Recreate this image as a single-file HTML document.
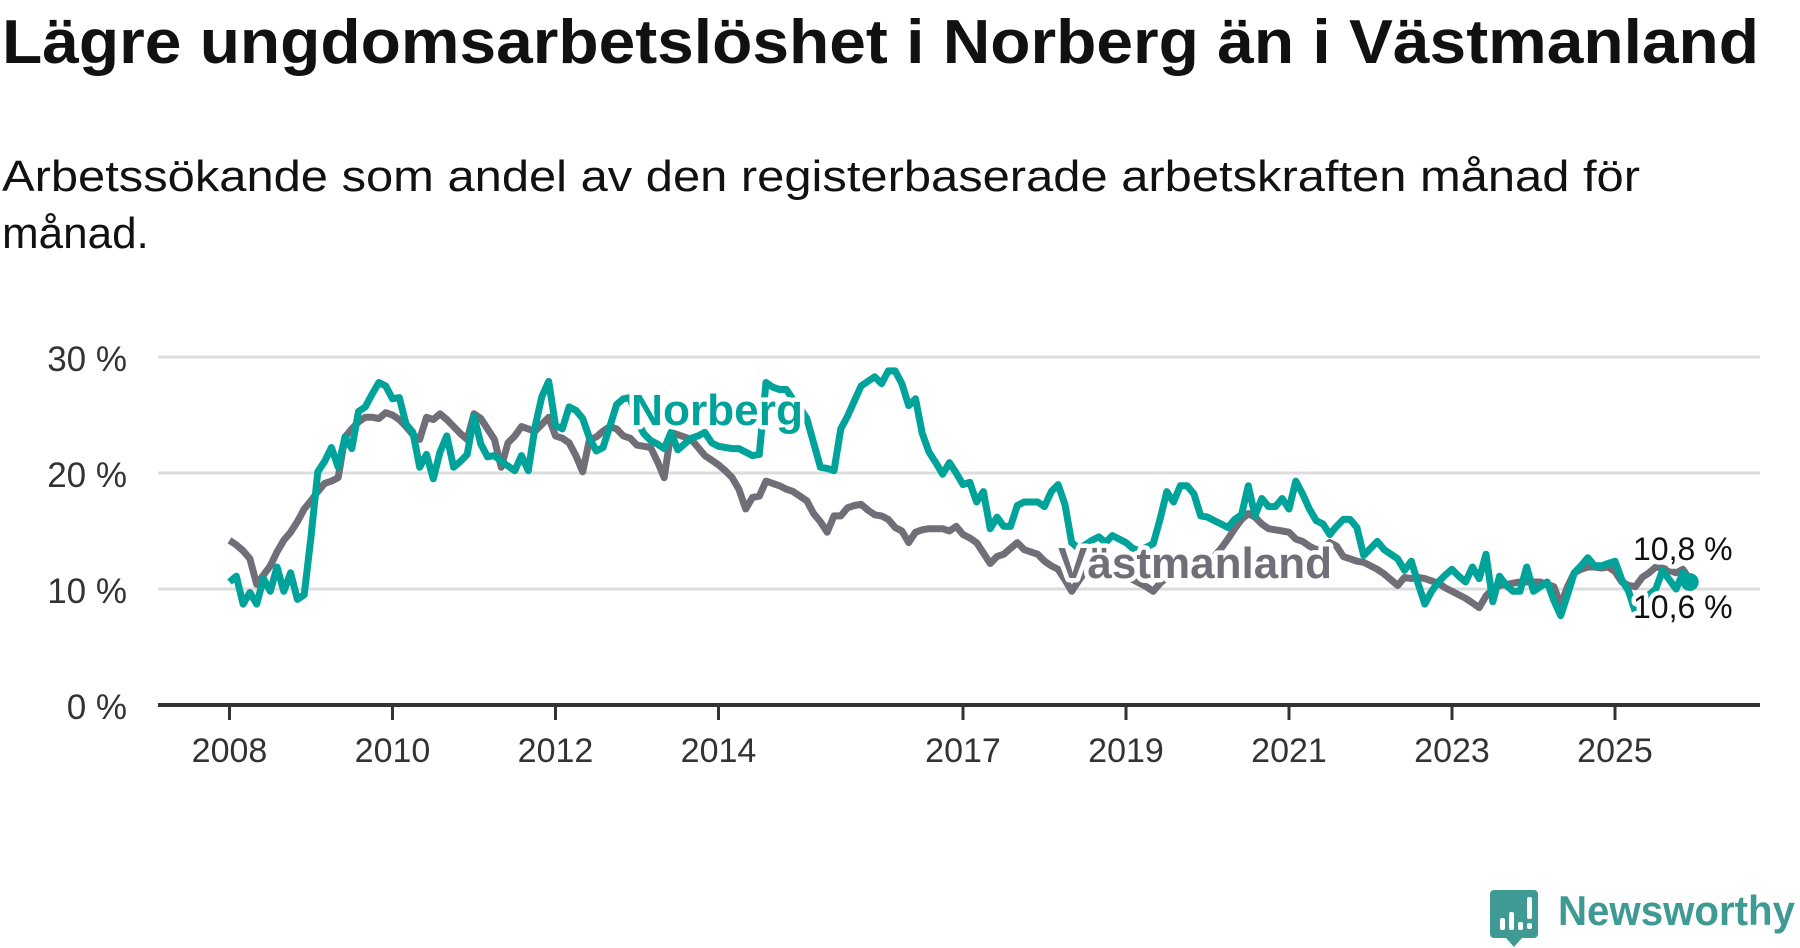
<!DOCTYPE html>
<html><head><meta charset="utf-8"><style>
html,body{margin:0;padding:0;background:#fff;}
svg{display:block;font-family:"Liberation Sans",sans-serif;}
</style></head><body>
<svg id="chart" width="1800" height="948" viewBox="0 0 1800 948" xmlns="http://www.w3.org/2000/svg">
<text x="2" y="63" font-size="62" font-weight="bold" fill="#111" textLength="1757" lengthAdjust="spacingAndGlyphs">Lägre ungdomsarbetslöshet i Norberg än i Västmanland</text>
<text x="2" y="191" font-size="44" fill="#111" textLength="1638" lengthAdjust="spacingAndGlyphs">Arbetssökande som andel av den registerbaserade arbetskraften månad för</text>
<text x="2" y="248" font-size="44" fill="#111">månad.</text>
<g id="grid"></g><g id="axis"></g><g id="lines"></g><g id="labels"></g>
<g>
<path d="M1494 890 h40 a4 4 0 0 1 4 4 v40 a4 4 0 0 1 -4 4 h-12 l-8 9 l-8 -9 h-12 a4 4 0 0 1 -4 -4 v-40 a4 4 0 0 1 4 -4z" fill="#3f9a94"/>
<g fill="#fff"><rect x="1500" y="918" width="5" height="12" rx="2"/><rect x="1509" y="912" width="5" height="18" rx="2"/><rect x="1518" y="922" width="5" height="8" rx="2"/><rect x="1527" y="897" width="5" height="22" rx="2"/><rect x="1527" y="923" width="5" height="6" rx="2"/></g>
<text x="1558" y="925" font-size="42" font-weight="bold" fill="#3f9a94" textLength="237" lengthAdjust="spacingAndGlyphs">Newsworthy</text>
</g>
</svg>
<script>
const yTicks = [0, 10, 20, 30];
const yTickLabels = ["0 %", "10 %", "20 %", "30 %"];
const xTickYears = [2008, 2010, 2012, 2014, 2017, 2019, 2021, 2023, 2025];
const startYear = 2008;
const seriesNames = ["Norberg", "Västmanland"];
const vastmanland = [14.2,13.8,13.3,12.6,10.4,11.2,12,13.2,14.2,14.9,15.8,16.9,17.6,18.4,19.1,19.3,19.6,23.1,23.8,24.4,24.8,24.8,24.7,25.2,25,24.6,24,23.3,22.9,24.8,24.6,25.1,24.6,24,23.4,22.9,25.1,24.7,23.8,22.9,20.5,22.6,23.2,24,23.8,23.6,24.2,24.8,23.2,23,22.6,21.5,20.1,22.9,23.1,23.6,24,23.8,23.2,23,22.4,22.3,22.2,21,19.6,23.5,23.3,23.1,22.9,22.2,21.5,21.1,20.7,20.2,19.6,18.6,16.9,17.9,18,19.3,19.1,18.9,18.6,18.4,18,17.6,16.5,15.8,14.9,16.3,16.3,17,17.2,17.3,16.8,16.4,16.3,16,15.3,15,14,14.9,15.1,15.2,15.2,15.2,15,15.4,14.7,14.4,14,13.1,12.2,12.8,13,13.5,14,13.4,13.2,13,12.4,12,11.7,10.8,9.8,10.7,11.5,11.8,12,12,11.8,11.5,11.2,10.8,10.5,10.2,9.8,10.5,11,11.3,11.5,11.5,11.6,11.8,12,12.8,13.5,14.3,15.2,16,16.5,16.2,15.6,15.2,15.1,15,14.9,14.3,14.1,13.7,13.4,13.5,14,13.7,12.8,12.6,12.4,12.3,12,11.7,11.3,10.8,10.3,11,10.9,11,10.9,10.7,10.5,10.1,9.8,9.5,9.2,8.8,8.4,9.4,10,10.3,10.4,10.5,10.6,10.6,10.6,10.6,10.4,10.2,8.6,10.2,11.4,11.7,11.9,11.9,11.8,11.9,11.5,10.6,10.3,10.2,11,11.4,11.9,11.8,11.6,11.4,11.7,10.8];
const norberg = [10.6,11.1,8.7,9.7,8.7,10.9,9.8,11.9,9.8,11.4,9.1,9.5,14.5,20.1,21,22.2,20.5,23.1,22.1,25.3,25.7,26.8,27.8,27.5,26.4,26.5,24.2,23.5,20.5,21.6,19.5,21.8,23.2,20.5,21,21.6,24.9,22.5,21.4,21.5,21,20.6,20.2,21.5,20.2,24,26.6,27.9,24.1,23.8,25.7,25.4,24.7,23,21.9,22.2,24,25.9,26.4,26.5,24.5,23.4,22.8,22.5,22.1,23.5,22,22.5,23,23.2,23.5,22.6,22.3,22.2,22.1,22.1,21.8,21.5,21.6,27.8,27.4,27.2,27.2,26.3,25.6,24.7,22.6,20.5,20.4,20.2,23.8,24.9,26.2,27.5,27.9,28.3,27.7,28.8,28.8,27.7,25.8,26.4,23.4,21.8,20.9,19.9,20.9,20,19,19.2,17.5,18.4,15.2,16.2,15.4,15.4,17.2,17.5,17.5,17.5,17.1,18.4,19,17.3,14,13.5,13.8,14.2,14.5,14,14.6,14.3,14,13.5,13.3,13.6,13.9,16,18.4,17.5,18.9,18.9,18.2,16.3,16.2,15.9,15.6,15.3,16,16.4,18.9,16.3,17.8,17.1,17.1,17.8,16.9,19.3,18.2,16.9,15.9,15.6,14.7,15.4,16,16,15.3,12.9,13.5,14.1,13.4,13,12.6,11.6,12.4,10.5,8.7,9.8,10.6,11.2,11.7,11.1,10.6,11.9,10.9,13,8.9,11.1,10.3,9.8,9.8,11.9,9.8,10.2,10.6,9,7.7,9.5,11.4,12,12.7,12,12,12.2,12.4,10.8,9.8,8,8.5,9.5,10,11.6,10.8,10,11.4,10.6];
const endLabels = ["10,8 %", "10,6 %"];

const NS = "http://www.w3.org/2000/svg";
const X0 = 229.5, PX_PER_YEAR = 81.5, Y0 = 705, PX_PER_PCT = 11.6, PLOT_L = 158, PLOT_R = 1760;
function xScale(i){ return X0 + i * PX_PER_YEAR / 12; }
function xYear(yr){ return X0 + (yr - startYear) * PX_PER_YEAR; }
function yScale(v){ return Y0 - v * PX_PER_PCT; }
function mk(tag, attrs, parent){ const e = document.createElementNS(NS, tag); for (const k in attrs) e.setAttribute(k, attrs[k]); parent.appendChild(e); return e; }

const grid = document.getElementById('grid');
yTicks.forEach((t, k) => {
  if (t > 0) {
    const gl = mk('line', {x1: PLOT_L, x2: PLOT_R, y1: yScale(t), y2: yScale(t), stroke: '#dcdcdc', 'stroke-width': 3}, grid);
    
    
  }
  const tl = mk('text', {x: 127, y: yScale(t) + 14, 'text-anchor': 'end', 'font-size': 35, fill: '#333'}, grid);
  tl.textContent = yTickLabels[k];
  
  
});
const axis = document.getElementById('axis');
const al = mk('line', {x1: PLOT_L, x2: PLOT_R, y1: Y0, y2: Y0, stroke: '#333', 'stroke-width': 4}, axis);


xTickYears.forEach(yr => {
  const x = xYear(yr);
  const tk = mk('line', {x1: x, x2: x, y1: Y0, y2: 720, stroke: '#333', 'stroke-width': 3}, axis);
  
  
  const lb = mk('text', {x: x, y: 762, 'text-anchor': 'middle', 'font-size': 34, fill: '#333'}, axis);
  lb.textContent = yr;
  
  
});

const lines = document.getElementById('lines');
function pathFor(arr){ return arr.map((v, i) => (i ? 'L' : 'M') + xScale(i).toFixed(1) + ' ' + yScale(v).toFixed(1)).join(' '); }
const gp = mk('path', {d: pathFor(vastmanland), fill: 'none', stroke: '#706f77', 'stroke-width': 7, 'stroke-linejoin': 'round'}, lines);


const tp = mk('path', {d: pathFor(norberg), fill: 'none', stroke: '#00a39a', 'stroke-width': 7, 'stroke-linejoin': 'round'}, lines);


const last = norberg.length - 1;
const dot = mk('circle', {cx: xScale(last), cy: yScale(norberg[last]), r: 9, fill: '#00a39a'}, lines);



const labels = document.getElementById('labels');
const halo = {stroke: '#fff', 'stroke-width': 9, 'paint-order': 'stroke', 'stroke-linejoin': 'round'};
const nl = mk('text', Object.assign({x: 631, y: 425, 'font-size': 44, 'font-weight': 'bold', fill: '#00a39a', textLength: 172, lengthAdjust: 'spacingAndGlyphs'}, halo), labels);
nl.textContent = seriesNames[0];


const vl = mk('text', Object.assign({x: 1058, y: 578, 'font-size': 44, 'font-weight': 'bold', fill: '#706f77', textLength: 274, lengthAdjust: 'spacingAndGlyphs'}, halo), labels);
vl.textContent = seriesNames[1];


const e1 = mk('text', Object.assign({x: 1633, y: 560, 'font-size': 32, fill: '#111'}, halo), labels);
e1.textContent = endLabels[0];


const e2 = mk('text', Object.assign({x: 1633, y: 618, 'font-size': 32, fill: '#111'}, halo), labels);
e2.textContent = endLabels[1];


</script>
</body></html>
